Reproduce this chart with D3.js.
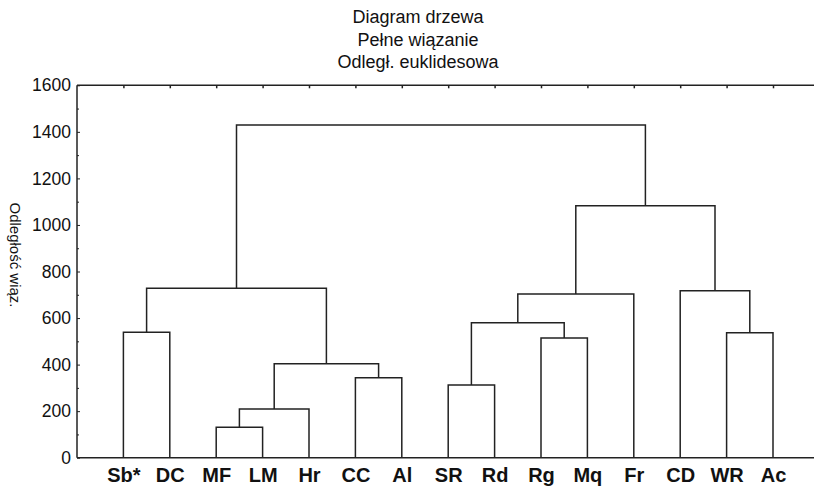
<!DOCTYPE html>
<html lang="pl">
<head>
<meta charset="UTF-8">
<title>Diagram drzewa</title>
<script src="https://cdnjs.cloudflare.com/ajax/libs/d3/7.8.5/d3.min.js"></script>
<style>
	body { margin: 0; background: #fff; }
	svg { display: block; font-family: "Liberation Sans", Arial, sans-serif; }
	.title { font-size: 18px; fill: #111; }
	.ylabel { font-size: 15px; fill: #111; }
	.y-axis text { font-size: 17.5px; fill: #111; }
	.x-axis text { font-size: 20px; font-weight: bold; fill: #111; }
	.link { fill: none; stroke: #222; stroke-width: 1.5; }
	.frame { stroke: #222; stroke-width: 1.5; }
</style>
</head>
<body>
<div id="chart"></div>
<script>
	const leaves = ["Sb*", "DC", "MF", "LM", "Hr", "CC", "Al", "SR", "Rd", "Rg", "Mq", "Fr", "CD", "WR", "Ac"];
	// linkage: indices < 15 are leaves, 15+ are earlier merges (in order)
	const mergePairs = [
		[2, 3], [15, 4], [7, 8], [5, 6], [16, 18], [9, 10], [13, 14],
		[0, 1], [17, 20], [23, 11], [12, 21], [22, 19], [24, 25], [26, 27]
	];
	const mergeHeights = [131, 209, 312, 344, 404, 514, 537, 539, 580, 703, 717, 728, 1083, 1429];
	const yTicks = [0, 200, 400, 600, 800, 1000, 1200, 1400, 1600];
	const titleLines = ["Diagram drzewa", "Pełne wiązanie", "Odległ. euklidesowa"];
	const yLabel = "Odległość wiąz.";

	const W = 814, H = 487;
	const margin = { left: 77, top: 85.3, bottom: 457.7 };
	const plotWidth = 742.4;

	const svg = d3.select("#chart").append("svg")
		.attr("width", W).attr("height", H);

	const x = d3.scalePoint()
		.domain(leaves)
		.range([margin.left, margin.left + plotWidth])
		.padding(1);

	const y = d3.scaleLinear()
		.domain([0, 1600])
		.range([margin.bottom, margin.top]);

	// node positions
	const nodes = leaves.map(l => ({ x: x(l), h: 0 }));
	mergePairs.forEach((p, i) => {
		const a = nodes[p[0]], b = nodes[p[1]];
		nodes.push({ x: (a.x + b.x) / 2, h: mergeHeights[i], a: a, b: b });
	});

	svg.append("g").selectAll("path")
		.data(nodes.filter(n => n.a))
		.enter().append("path")
		.attr("class", "link")
		.attr("d", n => `M${n.a.x},${y(n.a.h)}V${y(n.h)}H${n.b.x}V${y(n.b.h)}`);

	// frame: left, top, bottom (plot runs off the right edge)
	svg.append("line").attr("class", "frame")
		.attr("x1", margin.left).attr("x2", W + 10)
		.attr("y1", y(1600)).attr("y2", y(1600));
	svg.append("line").attr("class", "frame")
		.attr("x1", margin.left).attr("x2", W + 10)
		.attr("y1", y(0)).attr("y2", y(0));
	svg.append("line").attr("class", "frame")
		.attr("x1", margin.left).attr("x2", margin.left)
		.attr("y1", y(1600)).attr("y2", y(0));

	// y axis
	const yAxis = svg.append("g")
		.attr("class", "y-axis")
		.attr("transform", `translate(${margin.left},0)`)
		.call(d3.axisLeft(y).tickValues(yTicks).tickFormat(d3.format("d"))
			.tickSizeInner(-3).tickSizeOuter(0).tickPadding(6));
	yAxis.select(".domain").remove();
	yAxis.selectAll("line").attr("stroke", "#222");

	const minor = svg.append("g")
		.attr("transform", `translate(${margin.left},0)`)
		.call(d3.axisLeft(y).tickValues(d3.range(100, 1600, 200)).tickSize(-2).tickFormat(""));
	minor.select(".domain").remove();
	minor.selectAll("line").attr("stroke", "#222");

	// top ticks at leaves
	const topAxis = svg.append("g")
		.attr("transform", `translate(0,${y(1600)})`)
		.call(d3.axisTop(x).tickSize(-3).tickFormat(""));
	topAxis.select(".domain").remove();
	topAxis.selectAll("line").attr("stroke", "#222").attr("stroke-width", 1.5);

	// leaf labels
	const xAxis = svg.append("g")
		.attr("class", "x-axis")
		.attr("transform", `translate(0,${y(0)})`)
		.call(d3.axisBottom(x).tickSize(0).tickPadding(10));
	xAxis.select(".domain").remove();
	xAxis.selectAll("text").attr("dy", "0.71em");

	// title
	svg.append("g").selectAll("text")
		.data(titleLines)
		.enter().append("text")
		.attr("class", "title")
		.attr("x", 418)
		.attr("y", (d, i) => 23 + i * 22.5)
		.attr("text-anchor", "middle")
		.text(d => d);

	// y label
	svg.append("text")
		.attr("class", "ylabel")
		.attr("transform", "translate(10,255) rotate(90)")
		.attr("text-anchor", "middle")
		.text(yLabel);
</script>
</body>
</html>
